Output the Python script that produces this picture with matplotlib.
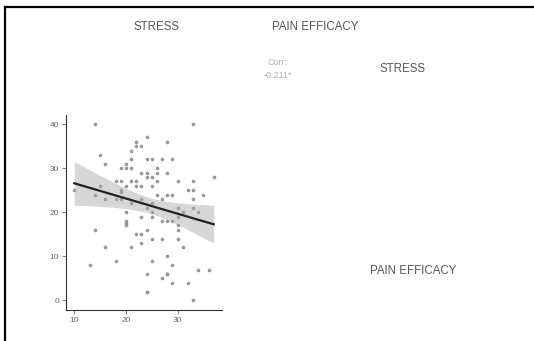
import numpy as np
import matplotlib
matplotlib.use("Agg")
import matplotlib.pyplot as plt
from matplotlib.lines import Line2D

plt.rcParams["font.family"] = ["Liberation Sans", "DejaVu Sans"]

# scatter data (STRESS on x, PAIN EFFICACY on y)
stress = [10, 14, 15, 16, 14, 15, 16, 14, 13, 16,
          18, 18, 18, 19, 19, 19, 19, 19, 20, 20,
          20, 20, 20, 20, 20, 21, 21, 21, 21, 21,
          21, 22, 22, 22, 22, 22, 23, 23, 23, 23,
          23, 23, 23, 24, 24, 24, 24, 24, 24, 24,
          24, 24, 25, 25, 25, 25, 25, 25, 25, 25,
          26, 26, 26, 26, 27, 27, 27, 27, 27, 28,
          28, 28, 28, 28, 28, 28, 29, 29, 29, 29,
          29, 30, 30, 30, 30, 30, 30, 31, 31, 32,
          32, 33, 33, 33, 33, 33, 33, 34, 34, 35,
          36, 37]
pain_efficacy = [25, 40, 33, 31, 24, 26, 23, 16, 8, 12,
                 23, 9, 27, 30, 27, 25, 24.5, 23, 31, 30,
                 26, 20, 18, 17.5, 17, 34, 32, 30, 27, 22,
                 12, 36, 35, 27, 26, 15, 35, 29, 26, 23,
                 19, 15, 13, 37, 32, 29, 28, 21, 16, 6,
                 2, 2, 32, 28, 26, 22, 20, 19, 14, 9,
                 30, 29, 27, 24, 32, 23, 18, 14, 5, 36,
                 29, 24, 18, 10, 6, 6, 32, 24, 18, 8,
                 4, 27, 21, 19, 17, 16, 14, 20, 12, 25,
                 4, 40, 27, 25, 23, 21, 0, 20, 7, 24,
                 7, 28]

x_ticks = [10, 20, 30]
y_ticks = [0, 10, 20, 30, 40]
corr_label = "Corr:\n-0.211*"
col_labels = ["STRESS", "PAIN EFFICACY"]
row_labels = ["STRESS", "PAIN EFFICACY"]

W, H = 534, 341
fig = plt.figure(figsize=(W / 100, H / 100), dpi=100)
fig.patch.set_facecolor("white")


def fx(px):
    return px / W


def fy(py):
    return 1 - py / H


ax = fig.add_axes([fx(66), fy(310), fx(222) - fx(66), fy(115) - fy(310)])

x = np.array(stress, dtype=float)
y = np.array(pain_efficacy, dtype=float)
ax.scatter(x, y, s=5, color="#9a9a9a", edgecolors="#888888", linewidths=0.3, zorder=2)

# linear fit with 95% confidence band
b, a = np.polyfit(x, y, 1)
xs = np.linspace(x.min(), x.max(), 100)
ys = a + b * xs
n = len(x)
resid = y - (a + b * x)
s = np.sqrt(np.sum(resid ** 2) / (n - 2))
sxx = np.sum((x - x.mean()) ** 2)
se = s * np.sqrt(1 / n + (xs - x.mean()) ** 2 / sxx)
t_crit = 1.984
ax.fill_between(xs, ys - t_crit * se, ys + t_crit * se, color="#a8a8a8", alpha=0.45,
                linewidth=0, zorder=3)
ax.plot(xs, ys, color="#222222", lw=1.6, zorder=4)

ax.set_xlim(8.4, 38.6)
ax.set_ylim(-2.2, 42.1)
ax.set_xticks(x_ticks)
ax.set_yticks(y_ticks)
ax.tick_params(labelsize=6, colors="#666666", length=3, width=0.6, pad=2)
for sp in ["top", "right"]:
    ax.spines[sp].set_visible(False)
for sp in ["left", "bottom"]:
    ax.spines[sp].set_color("#333333")
    ax.spines[sp].set_linewidth(0.8)

# strip labels and text panels
tc = "#555555"
fs = 8.3
fig.text(fx(157), fy(27), col_labels[0], ha="center", va="center", fontsize=fs, color=tc)
fig.text(fx(315), fy(27), col_labels[1], ha="center", va="center", fontsize=fs, color=tc)
fig.text(fx(278), fy(69), corr_label, ha="center", va="center", fontsize=6.5,
         color="#b0b0b0", linespacing=1.6)
fig.text(fx(403), fy(69), row_labels[0], ha="center", va="center", fontsize=fs, color=tc)
fig.text(fx(413), fy(271), row_labels[1], ha="center", va="center", fontsize=fs, color=tc)

# outer frame (only top and left edges visible)
fig.add_artist(Line2D([fx(5.5), 1], [fy(6.5), fy(6.5)], transform=fig.transFigure,
                      color="black", lw=1.6))
fig.add_artist(Line2D([fx(5.5), fx(5.5)], [fy(6.5), 0], transform=fig.transFigure,
                      color="black", lw=1.6))

fig.savefig("out.png", dpi=100)
